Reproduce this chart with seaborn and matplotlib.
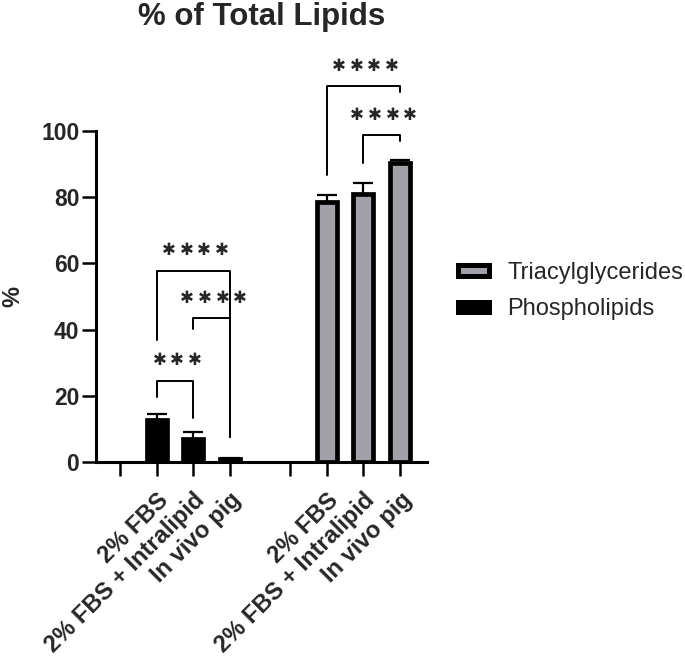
import numpy as np
import pandas as pd
import seaborn as sns
import matplotlib
matplotlib.use("Agg")
import matplotlib.pyplot as plt
import matplotlib.transforms as mtransforms
from matplotlib.patches import Patch

# data (mean, upper error)
groups = ["2% FBS", "2% FBS + Intralipid", "In vivo pig"]
lipids = ["Phospholipids", "Triacylglycerides"]
phospho_mean = [12.7, 6.9, 0.8]
phospho_err = [1.7, 2.2, 0.4]
tag_mean = [78.4, 81.1, 90.2]
tag_err = [2.3, 3.1, 1.0]

# significance stars per comparison (group i vs group j)
phospho_sig = [(0, 1, 3), (1, 2, 4), (0, 2, 4)]
tag_sig = [(1, 2, 4), (0, 2, 4)]

sns.set_style("ticks")
plt.rcParams["font.family"] = ["Liberation Sans", "DejaVu Sans"]

gray = "#a0a0a8"
phospho_pos = [1.0, 2.0, 3.0]
tag_pos = [5.65, 6.65, 7.65]

df = pd.DataFrame({
    "pos": phospho_pos + tag_pos,
    "value": phospho_mean + tag_mean,
    "lipid": [lipids[0]] * 3 + [lipids[1]] * 3,
})

fig = plt.figure(figsize=(6.85, 6.62), dpi=100)
ax = fig.add_axes([96 / 685, 200 / 662, 331 / 685, 331 / 662])

sns.barplot(data=df, x="pos", y="value", hue="lipid",
            palette={lipids[0]: "black", lipids[1]: gray},
            native_scale=True, dodge=False, width=0.55,
            edgecolor="black", linewidth=3.4, errorbar=None,
            legend=False, ax=ax)

ax.errorbar(phospho_pos + tag_pos, phospho_mean + tag_mean,
            yerr=[np.zeros(6), phospho_err + tag_err],
            fmt="none", ecolor="black", elinewidth=1.6, capsize=7,
            capthick=1.6, zorder=1, clip_on=False)

ax.set_xlim(-0.66, 8.39)
ax.set_ylim(0, 100)
ax.set_yticks([0, 20, 40, 60, 80, 100])
ax.set_xticks([0.0] + phospho_pos + [4.65] + tag_pos)
ax.set_xticklabels([""] + groups + [""] + groups, rotation=45, ha="right",
                   va="top", rotation_mode="anchor", fontsize=17,
                   fontweight="bold")
shift = mtransforms.ScaledTranslation(5 / 100, 0, fig.dpi_scale_trans)
for lab in ax.get_xticklabels():
    lab.set_transform(lab.get_transform() + shift)
for lab in ax.get_yticklabels():
    lab.set_fontsize(16.5)
    lab.set_fontweight("bold")
ax.tick_params(axis="both", length=10, width=1.8, color="black")
ax.tick_params(axis="x", pad=9)
ax.tick_params(axis="y", pad=2)
for s in ["left", "bottom"]:
    ax.spines[s].set_linewidth(2.2)
    ax.spines[s].set_color("black")
sns.despine(ax=ax)

ax.set_xlabel("")
ax.set_ylabel("%", fontsize=17, fontweight="bold", labelpad=12)
ax.set_title("% of Total Lipids", fontsize=22.5, fontweight="bold", pad=76)


def bracket(x1, x2, y, y1, y2, nstar, ytext):
    ax.plot([x1, x1, x2, x2], [y1, y, y, y2], color="black", lw=1.4,
            clip_on=False)
    xc = (x1 + x2) / 2
    for k in range(nstar):
        ax.annotate("\u2731", xy=(xc, ytext),
                    xytext=((k - (nstar - 1) / 2) * 12.7 + 1.5, 0),
                    textcoords="offset points", ha="center", va="center",
                    fontsize=12, family="DejaVu Sans", annotation_clip=False)


pp, tp = phospho_pos, tag_pos
bracket(pp[0], pp[1], 24.5, 19.6, 13.3, phospho_sig[0][2], 30.8)
bracket(pp[1], pp[2], 43.5, 40.2, 7.5, phospho_sig[1][2], 49.5)
bracket(pp[0], pp[2], 57.8, 36.9, 7.5, phospho_sig[2][2], 64.0)
bracket(tp[1], tp[2], 98.8, 90.3, 97.0, tag_sig[0][2], 104.8)
bracket(tp[0], tp[2], 113.6, 86.7, 111.8, tag_sig[1][2], 119.6)

handles = [Patch(facecolor=gray, edgecolor="black", linewidth=3.6),
           Patch(facecolor="black", edgecolor="black", linewidth=3.6)]
fig.legend(handles, [lipids[1], lipids[0]], loc="upper left",
           bbox_to_anchor=(458 / 685, 1 - 262 / 662), frameon=False,
           fontsize=17, handlelength=1.3, handleheight=0.28,
           handletextpad=0.8, labelspacing=0.6, borderpad=0,
           borderaxespad=0)

fig.savefig("out.png", dpi=100)
